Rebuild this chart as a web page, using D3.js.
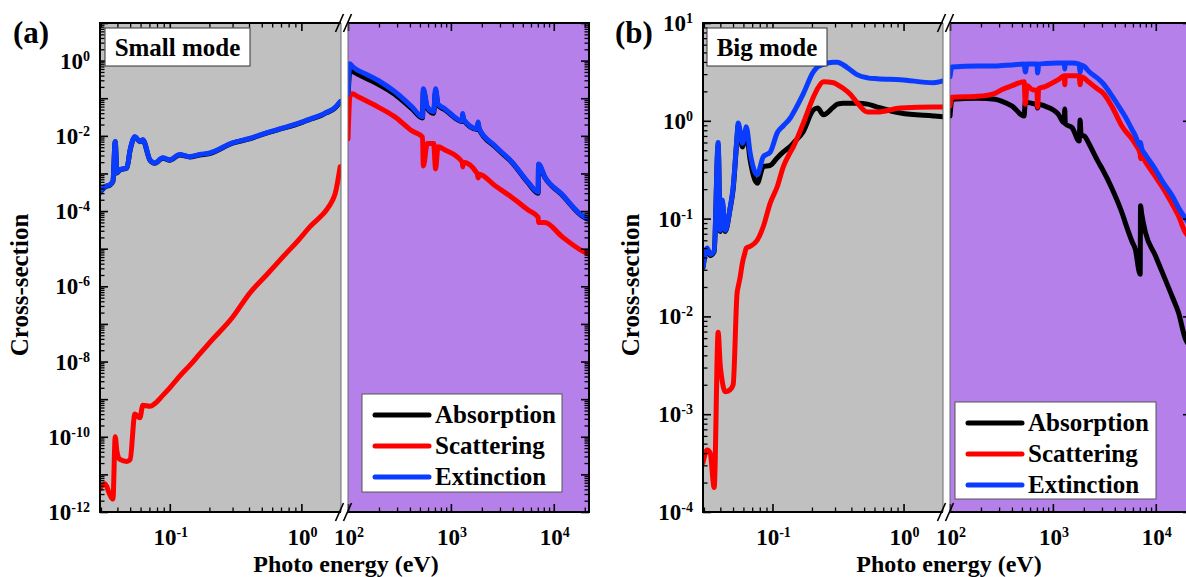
<!DOCTYPE html>
<html>
<head>
<meta charset="utf-8">
<script src="https://cdn.jsdelivr.net/npm/d3@7"></script>
<style>
  body { margin: 0; background: #ffffff; }
  svg text { font-family: 'Liberation Serif', 'Times New Roman', serif; font-weight: bold; fill: #000; }
</style>
</head>
<body>
<svg id="chart" width="1186" height="577"></svg>
<script>
// ---------------- data: cross-sections vs photon energy (eV) ----------------
// Small mode, low-energy segment (0.03 - 2 eV)
const energyLowA = [0.0295, 0.0322, 0.035, 0.037, 0.0385, 0.0397, 0.0418, 0.0472, 0.05, 0.0543, 0.0593, 0.0624, 0.0707, 0.0769, 0.0885, 0.1, 0.119, 0.142, 0.169, 0.201, 0.30, 0.404, 0.543, 0.718, 0.966, 1.15, 1.44, 1.55, 1.72, 1.81, 1.97];
const absLowA = [3.1e-4, 4.4e-4, 4.9e-4, 6.2e-4, 7.0e-3, 1.03e-3, 1.24e-3, 1.39e-3, 4.2e-3, 9.3e-3, 7.0e-3, 7.7e-3, 2.25e-3, 1.86e-3, 2.55e-3, 2.25e-3, 3.1e-3, 2.75e-3, 3.1e-3, 3.4e-3, 6.4e-3, 8.3e-3, 1.18e-2, 1.57e-2, 2.15e-2, 2.7e-2, 3.6e-2, 4.1e-2, 4.9e-2, 5.6e-2, 7.9e-2];
const scaLowA = [4.2e-12, 5.6e-12, 2.9e-12, 2.2e-12, 1.0e-10, 4.0e-11, 2.5e-11, 2.2e-11, 2.5e-11, 4.0e-10, 3.2e-10, 6.9e-10, 6.5e-10, 7.6e-10, 1.26e-9, 2.0e-9, 4.1e-9, 7.9e-9, 1.6e-8, 3.2e-8, 1.5e-7, 6.5e-7, 2.0e-6, 5.9e-6, 1.8e-5, 3.7e-5, 7.9e-5, 1.07e-4, 1.9e-4, 3.0e-4, 1.5e-3];
const extLowA = [3.2e-4, 4.5e-4, 5.0e-4, 6.3e-4, 7.1e-3, 1.05e-3, 1.26e-3, 1.41e-3, 4.3e-3, 9.5e-3, 7.1e-3, 7.9e-3, 2.3e-3, 1.9e-3, 2.6e-3, 2.3e-3, 3.2e-3, 2.8e-3, 3.2e-3, 3.5e-3, 6.5e-3, 8.5e-3, 1.2e-2, 1.6e-2, 2.2e-2, 2.75e-2, 3.7e-2, 4.2e-2, 5.0e-2, 5.75e-2, 8.1e-2];

// Small mode, X-ray segment (100 eV - 22 keV)
const energyHighA = [100, 104.5, 110, 125, 146, 195, 286, 419, 530, 540, 590, 680, 710, 750, 877, 1290, 1305, 1320, 1800, 1840, 1880, 2690, 3930, 5630, 7050, 7112, 8200, 12000, 19200, 22000];
const absHighA = [0.1, 0.56, 0.52, 0.43, 0.35, 0.24, 0.126, 0.052, 0.030, 0.158, 0.054, 0.040, 0.158, 0.065, 0.049, 0.024, 0.036, 0.027, 0.0148, 0.0219, 0.0151, 5.1e-3, 1.95e-3, 5.6e-4, 3.0e-4, 1.66e-3, 7.8e-4, 2.7e-4, 7.1e-5, 6.0e-5];
const scaHighA = [8.3e-3, 0.112, 0.132, 0.11, 0.089, 0.059, 0.032, 0.0135, 9.3e-3, 1.58e-3, 6.3e-3, 6.3e-3, 1.32e-3, 5.1e-3, 4.2e-3, 2.0e-3, 1.5e-3, 2.0e-3, 1.0e-3, 7.6e-4, 9.5e-4, 4.7e-4, 2.3e-4, 1.07e-4, 6.9e-5, 5.0e-5, 5.0e-5, 2.1e-5, 8.5e-6, 7.1e-6];
const extHighA = [0.126, 0.83, 0.71, 0.55, 0.45, 0.30, 0.148, 0.059, 0.032, 0.178, 0.059, 0.044, 0.178, 0.071, 0.052, 0.025, 0.039, 0.028, 0.0155, 0.0234, 0.0158, 5.4e-3, 2.0e-3, 5.9e-4, 3.2e-4, 1.78e-3, 8.1e-4, 2.8e-4, 7.4e-5, 6.3e-5];

// Big mode, low-energy segment
const energyLowB = [0.0295, 0.0317, 0.0335, 0.0359, 0.0385, 0.0399, 0.0413, 0.0436, 0.0475, 0.0501, 0.0537, 0.0547, 0.0566, 0.0589, 0.0617, 0.063, 0.0675, 0.0764, 0.0851, 0.0962, 0.109, 0.121, 0.137, 0.144, 0.172, 0.205, 0.221, 0.245, 0.292, 0.313, 0.348, 0.394, 0.446, 0.531, 0.631, 0.948, 1.69, 2.0];
const absLowB = [0.0316, 0.049, 0.042, 0.046, 0.56, 0.074, 0.148, 0.074, 0.126, 0.2, 0.68, 0.89, 0.74, 0.54, 0.68, 0.76, 0.4, 0.23, 0.34, 0.35, 0.42, 0.48, 0.55, 0.59, 0.78, 1.29, 1.35, 1.15, 1.38, 1.48, 1.51, 1.51, 1.51, 1.48, 1.38, 1.2, 1.12, 1.1];
const scaLowB = [3.2e-4, 4.3e-4, 4.0e-4, 1.78e-4, 6.9e-3, 3.2e-3, 2.2e-3, 1.7e-3, 1.78e-3, 2.0e-3, 0.0174, 0.02, 0.025, 0.035, 0.045, 0.05, 0.052, 0.06, 0.083, 0.145, 0.214, 0.34, 0.48, 0.54, 0.95, 1.74, 2.14, 2.51, 2.45, 2.34, 2.14, 1.86, 1.51, 1.23, 1.23, 1.35, 1.38, 1.38];
const extLowB = [0.032, 0.05, 0.043, 0.047, 0.60, 0.076, 0.155, 0.076, 0.129, 0.209, 0.71, 0.95, 0.79, 0.59, 0.76, 0.87, 0.47, 0.28, 0.43, 0.48, 0.76, 0.89, 1.07, 1.2, 1.9, 3.16, 3.55, 3.8, 3.98, 3.98, 3.72, 3.31, 2.95, 2.75, 2.69, 2.63, 2.45, 2.55];

// Big mode, X-ray segment
const energyHighB = [100, 104.6, 187, 274, 321, 402, 525, 540, 560, 627, 700, 710, 730, 841, 1127, 1290, 1305, 1320, 1540, 1800, 1840, 1880, 2050, 2210, 2760, 3030, 3780, 4730, 5050, 5890, 6310, 7050, 7112, 7300, 7940, 9900, 11600, 14500, 16600, 19400, 22000];
const absHighB = [1.12, 1.66, 1.7, 1.66, 1.58, 1.41, 1.12, 1.58, 1.55, 1.51, 1.45, 1.35, 1.48, 1.41, 1.17, 0.95, 1.32, 0.93, 0.85, 0.62, 1.02, 0.72, 0.69, 0.6, 0.38, 0.32, 0.2, 0.112, 0.091, 0.058, 0.049, 0.027, 0.135, 0.112, 0.072, 0.042, 0.028, 0.0158, 0.011, 5.9e-3, 4.8e-3];
const scaHighB = [1.41, 1.74, 1.78, 1.91, 2.09, 2.29, 2.51, 1.48, 2.29, 2.09, 2.04, 1.38, 2.14, 2.24, 2.63, 2.88, 2.34, 2.88, 2.88, 2.88, 2.34, 2.82, 2.69, 2.51, 2.09, 1.95, 1.38, 0.87, 0.79, 0.65, 0.58, 0.46, 0.41, 0.44, 0.38, 0.27, 0.21, 0.14, 0.107, 0.072, 0.063];
const extHighB = [2.82, 3.55, 3.63, 3.63, 3.67, 3.72, 3.8, 3.16, 3.8, 3.8, 3.8, 3.09, 3.8, 3.85, 3.89, 3.89, 3.39, 3.89, 3.89, 3.8, 3.16, 3.72, 3.55, 3.24, 2.69, 2.45, 1.78, 1.23, 1.1, 0.81, 0.71, 0.55, 0.6, 0.52, 0.45, 0.32, 0.24, 0.17, 0.13, 0.1, 0.083];

// labels and tick values
const seriesNames = ["Absorption", "Scattering", "Extinction"];
const panelTags = ["(a)", "(b)"];
const modeNames = ["Small mode", "Big mode"];
const yAxisTitle = "Cross-section";
const xAxisTitle = "Photo energy (eV)";
const xLabelsLow = [0.1, 1];
const xLabelsHigh = [100, 1000, 10000];
const yLabelsA = [1, 1e-2, 1e-4, 1e-6, 1e-8, 1e-10, 1e-12];
const yLabelsB = [10, 1, 0.1, 1e-2, 1e-3, 1e-4];

// ---------------- drawing ----------------
const colors = ["#000000", "#ff0000", "#0a3cff"];
const svg = d3.select("#chart");
const TOP = 23, BOTTOM = 512;
const lowDomain = [0.0295, 2.0], highDomain = [100, 22000];

const panels = [
  { left: 100, brk: 341, resume: 348, right: 589, yDomain: [1e-12, 10], yLabels: yLabelsA,
    low: [energyLowA, absLowA, scaLowA, extLowA], high: [energyHighA, absHighA, scaHighA, extHighA],
    tagX: 13, boxX: 105, boxW: 145, titleX: 19, xTitleX: 346,
    legend: { x: 362, y: 394, w: 200, h: 98 } },
  { left: 703, brk: 943, resume: 950, right: 1191, yDomain: [1e-4, 10], yLabels: yLabelsB,
    low: [energyLowB, absLowB, scaLowB, extLowB], high: [energyHighB, absHighB, scaHighB, extHighB],
    tagX: 615, boxX: 707, boxW: 120, titleX: 630, xTitleX: 949,
    legend: { x: 955, y: 402, w: 201, h: 97 } }
];

function decadeTicks(domain) {
  const lo = Math.floor(Math.log10(domain[0])), hi = Math.ceil(Math.log10(domain[1]));
  const major = [], minor = [];
  for (let n = lo; n <= hi; n++) {
    const base = Math.pow(10, n);
    if (base >= domain[0] * 0.999 && base <= domain[1] * 1.001) major.push(base);
    for (let k = 2; k <= 9; k++) {
      const v = k * base;
      if (v > domain[0] * 1.01 && v < domain[1] * 0.99) minor.push(v);
    }
  }
  return { major, minor };
}

function powerLabel(sel, v) {
  const e = Math.round(Math.log10(v));
  sel.append("tspan").text("10");
  sel.append("tspan").attr("dy", -8).attr("font-size", 14).text(String(e));
}

function styleTicks(g, w) {
  g.select(".domain").remove();
  g.selectAll(".tick line").attr("stroke", "#000").attr("stroke-width", w);
}

panels.forEach((p, pi) => {
  const g = svg.append("g");
  const y = d3.scaleLog().domain(p.yDomain).range([BOTTOM, TOP]);
  const xLow = d3.scaleLog().domain(lowDomain).range([p.left, p.brk]);
  const xHigh = d3.scaleLog().domain(highDomain).range([p.resume, p.right]);
  const yt = decadeTicks(p.yDomain);

  const segments = [
    { x: xLow, bg: "#c0c0c0", x0: p.left, x1: p.brk, data: p.low, labels: xLabelsLow, side: "left" },
    { x: xHigh, bg: "#b580e9", x0: p.resume, x1: p.right, data: p.high, labels: xLabelsHigh, side: "right" }
  ];

  segments.forEach((s, si) => {
    const clipId = `clip-${pi}-${si}`;
    g.append("clipPath").attr("id", clipId)
      .append("rect").attr("x", s.x0).attr("y", TOP).attr("width", s.x1 - s.x0).attr("height", BOTTOM - TOP);
    g.append("rect").attr("x", s.x0).attr("y", TOP).attr("width", s.x1 - s.x0)
      .attr("height", BOTTOM - TOP).attr("fill", s.bg);

    const energy = s.data[0];
    const line = d3.line()
      .x(d => s.x(d.e)).y(d => y(d.v))
      .curve(d3.curveMonotoneX);
    const lg = g.append("g").attr("clip-path", `url(#${clipId})`);
    [1, 2, 3].forEach(k => {
      const pts = energy.map((e, i) => ({ e, v: s.data[k][i] }));
      lg.append("path").datum(pts).attr("d", line)
        .attr("fill", "none").attr("stroke", colors[k - 1])
        .attr("stroke-width", 5).attr("stroke-linejoin", "round").attr("stroke-linecap", "round");
    });

    // x ticks (bottom and mirrored top), pointing inward
    const xt = decadeTicks(s.x.domain());
    [[d3.axisBottom, BOTTOM], [d3.axisTop, TOP]].forEach(([ax, yy]) => {
      g.append("g").attr("transform", `translate(0,${yy})`)
        .call(ax(s.x).tickValues(xt.major).tickSize(-8).tickFormat(""))
        .call(a => styleTicks(a, 1.6));
      g.append("g").attr("transform", `translate(0,${yy})`)
        .call(ax(s.x).tickValues(xt.minor).tickSize(-4.5).tickFormat(""))
        .call(a => styleTicks(a, 1.3));
    });

    // y ticks on the outer side of each segment
    const yAx = s.side === "left" ? d3.axisLeft : d3.axisRight;
    const yx = s.side === "left" ? s.x0 : s.x1;
    g.append("g").attr("transform", `translate(${yx},0)`)
      .call(yAx(y).tickValues(yt.major).tickSize(-8).tickFormat(""))
      .call(a => styleTicks(a, 1.6));
    g.append("g").attr("transform", `translate(${yx},0)`)
      .call(yAx(y).tickValues(yt.minor).tickSize(-4.5).tickFormat(""))
      .call(a => styleTicks(a, 1.3));

    // frame: heavy outer edges, thin inner edge at the axis break
    const outer = s.side === "left"
      ? `M${s.x1},${TOP}H${s.x0}V${BOTTOM}H${s.x1}`
      : `M${s.x0},${TOP}H${s.x1}V${BOTTOM}H${s.x0}`;
    g.append("path").attr("d", outer).attr("fill", "none").attr("stroke", "#000").attr("stroke-width", 2);
    const inner = s.side === "left" ? s.x1 : s.x0;
    g.append("line").attr("x1", inner).attr("x2", inner).attr("y1", TOP).attr("y2", BOTTOM)
      .attr("stroke", "#6a6a6a").attr("stroke-width", 1);

    // x tick labels
    s.labels.forEach(v => {
      g.append("text").attr("x", s.x(v) + 1).attr("y", 544.5)
        .attr("text-anchor", "middle").attr("font-size", 23)
        .call(t => powerLabel(t, v));
    });
  });

  // break marks "//" on top and bottom edges
  [p.brk - 1.5, p.resume - 0.5].forEach(cx => {
    [TOP, BOTTOM].forEach(cy => {
      g.append("line").attr("x1", cx - 4).attr("y1", cy + 9).attr("x2", cx + 4).attr("y2", cy - 9)
        .attr("stroke", "#000").attr("stroke-width", 1.6);
    });
  });

  // y tick labels
  p.yLabels.forEach(v => {
    g.append("text").attr("x", p.left - 10).attr("y", y(v) + 8)
      .attr("text-anchor", "end").attr("font-size", 23)
      .call(t => powerLabel(t, v));
  });

  // mode box
  g.append("rect").attr("x", p.boxX).attr("y", 28).attr("width", p.boxW).attr("height", 38)
    .attr("fill", "#fff").attr("stroke", "#333").attr("stroke-width", 1);
  g.append("text").attr("x", p.boxX + p.boxW / 2).attr("y", 56).attr("text-anchor", "middle")
    .attr("font-size", 25).text(modeNames[pi]);

  // panel tag
  g.append("text").attr("x", p.tagX).attr("y", 43).attr("font-size", 31).text(panelTags[pi]);

  // axis titles
  g.append("text").attr("transform", `translate(${p.titleX + 9},285) rotate(-90)`)
    .attr("text-anchor", "middle").attr("font-size", 25).text(yAxisTitle);
  g.append("text").attr("x", p.xTitleX).attr("y", 571.5).attr("text-anchor", "middle")
    .attr("font-size", 24).text(xAxisTitle);

  // legend
  const L = p.legend;
  const lg = g.append("g");
  lg.append("rect").attr("x", L.x).attr("y", L.y).attr("width", L.w).attr("height", L.h)
    .attr("fill", "#fff").attr("stroke", "#555").attr("stroke-width", 1);
  seriesNames.forEach((name, i) => {
    const ly = L.y + 21 + i * 31;
    lg.append("line").attr("x1", L.x + 13).attr("x2", L.x + 67).attr("y1", ly).attr("y2", ly)
      .attr("stroke", colors[i]).attr("stroke-width", 5).attr("stroke-linecap", "round");
    lg.append("text").attr("x", L.x + 73).attr("y", ly + 8).attr("font-size", 25).text(name);
  });
});
</script>
</body>
</html>
